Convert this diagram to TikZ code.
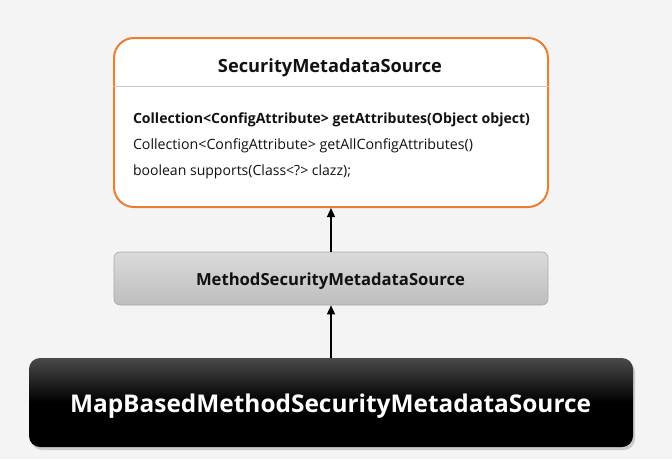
\documentclass[tikz,border=0pt]{standalone}
\usepackage{fontspec}
\setmainfont{Open Sans}
\usetikzlibrary{arrows.meta,shadows}
\definecolor{bgc}{HTML}{F4F4F4}
\definecolor{orangeb}{HTML}{ED7D31}
\definecolor{sepc}{HTML}{C8C8C8}
\definecolor{midtop}{HTML}{DADADA}
\definecolor{midbot}{HTML}{BEBEBE}
\definecolor{midborder}{HTML}{A8A8A8}
\definecolor{bottop}{HTML}{4A4A4A}
\definecolor{txt}{HTML}{111111}
\newcommand\fitw[2]{\resizebox{#1pt}{!}{#2}}
\begin{document}
\begin{tikzpicture}[x=1pt,y=-1pt,
  txtnode/.style={inner sep=0pt,outer sep=0pt,text=txt},
  topbox/.style={draw=orangeb,line width=2pt,fill=white,rounded corners=20pt,minimum width=434pt,minimum height=169pt,inner sep=0pt},
  midbox/.style={draw=midborder,line width=0.6pt,top color=midtop,bottom color=midbot,rounded corners=6pt,minimum width=434pt,minimum height=53pt,inner sep=0pt},
  botbox/.style={draw=none,top color=bottop,bottom color=black,middle color=black,rounded corners=11pt,minimum width=604pt,minimum height=89pt,inner sep=0pt,
    drop shadow={opacity=0.35,shadow xshift=2pt,shadow yshift=-3pt}},
  arr/.style={-{Triangle[length=9pt,width=8pt]},line width=1.3pt,black}
]
\fill[bgc] (0,0) rectangle (672,459);
\useasboundingbox (0,0) rectangle (672,459);

\node[topbox] (sms) at (331,122.5) {};
\coordinate (sep) at (331,86.5);
\draw[sepc,line width=0.8pt] (sms.west |- sep) -- (sms.east |- sep);
\node[txtnode,anchor=base] (smstitle) at (330,72) {\fitw{224}{\bfseries SecurityMetadataSource}};
\node[txtnode,anchor=base west] (m1) at (133,123) {\fitw{397}{\bfseries Collection<ConfigAttribute> getAttributes(Object object)}};
\node[txtnode,anchor=base west] (m2) at (133,149) {\fitw{340}{Collection<ConfigAttribute> getAllConfigAttributes()}};
\node[txtnode,anchor=base west] (m3) at (133,175) {\fitw{218}{boolean supports(Class<?> clazz);}};

\node[midbox] (mid) at (331,278.5) {};
\node[txtnode,anchor=base west] (midt) at (196,285) {\fitw{269}{\bfseries MethodSecurityMetadataSource}};

\node[botbox] (bot) at (331,402.5) {};
\node[txtnode,anchor=base west,text=white] (bott) at (70,412) {\fitw{521}{\bfseries MapBasedMethodSecurityMetadataSource}};

\draw[arr] (mid.north -| sms.south) -- (sms.south);
\draw[arr] (bot.north) -- (mid.south);
\end{tikzpicture}
\end{document}
